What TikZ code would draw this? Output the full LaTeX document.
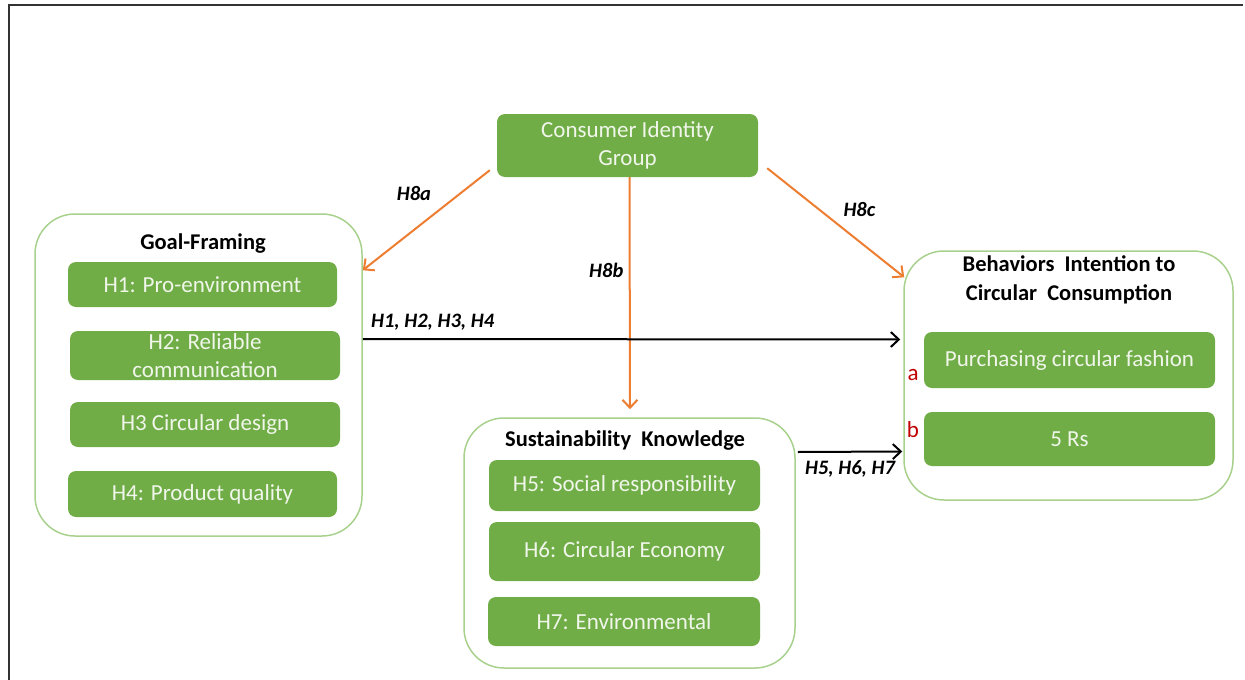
\documentclass[tikz,border=0pt]{standalone}
\usepackage{fontspec}
\setmainfont{Carlito}
\usetikzlibrary{arrows.meta}
\definecolor{boxgreen}{RGB}{112,173,71}
\definecolor{rimgreen}{RGB}{169,209,142}
\definecolor{boxtext}{RGB}{240,246,234}
\definecolor{linkorange}{RGB}{237,125,49}
\definecolor{tagred}{RGB}{192,0,0}
\begin{document}
\begin{tikzpicture}[x=1pt,y=-1pt,
        gbox/.style={draw=none,fill=boxgreen,rounded corners=8pt,text=boxtext,
            align=center,inner sep=0pt,font=\fontsize{23}{28}\selectfont},
        frame/.style={draw=rimgreen,line width=1.5pt,rounded corners=40pt,inner sep=0pt},
        title/.style={font=\fontsize{22.5}{29}\selectfont\bfseries,align=center},
        hyp/.style={font=\fontsize{20.5}{24}\selectfont\bfseries\itshape},
        tag/.style={text=tagred,font=\fontsize{23}{28}\selectfont},
        link/.style={line width=2pt,-{Straight Barb[length=8pt,width=15pt,line width=2pt]}},
        olink/.style={link,draw=linkorange}]
    \useasboundingbox (0,0) rectangle (1245,680);
    %% screenshot edge
    \draw[line width=2pt,black!80] (1243,5) -- (9,5) -- (9,680);
    %% consumer identity
    \node[gbox,minimum width=261pt,minimum height=63pt] (cig) at (627.5,145.5) {Consumer Identity\\Group};
    %% goal-framing
    \node[frame,minimum width=327pt,minimum height=322pt] (goal) at (198.5,375) {};
    \node[title] (goalt) at (203,244) {Goal-Framing};
    \node[gbox,minimum width=269pt,minimum height=45pt] (h1) at (202.5,284.5) {H1: Pro-environment};
    \node[gbox,minimum width=270pt,minimum height=49pt] (h2) at (205,355.5) {H2: Reliable\\communication};
    \node[gbox,minimum width=270pt,minimum height=45pt] (h3) at (205,424.5) {H3 Circular design};
    \node[gbox,minimum width=269pt,minimum height=46pt] (h4) at (202.5,494) {H4: Product quality};
    %% sustainability knowledge
    \node[frame,minimum width=331pt,minimum height=250pt] (sk) at (629.5,543) {};
    \node[title] (skt) at (625,441) {Sustainability\ \ Knowledge};
    \node[gbox,minimum width=271pt,minimum height=51pt] (h5) at (624.5,485.5) {H5: Social responsibility};
    \node[gbox,minimum width=271pt,minimum height=59pt] (h6) at (624.5,551.5) {H6: Circular Economy};
    \node[gbox,minimum width=272pt,minimum height=49pt] (h7) at (624,621.5) {H7: Environmental};
    %% behaviors intention
    \node[frame,minimum width=329pt,minimum height=249pt] (bi) at (1068.5,375.5) {};
    \node[title] (bit) at (1069,279.5) {Behaviors\ \ Intention to\\Circular\ \ Consumption};
    \node[gbox,minimum width=291pt,minimum height=56pt] (pcf) at (1069.5,360) {Purchasing circular fashion};
    \node[gbox,minimum width=291pt,minimum height=54pt] (rs) at (1069.5,439) {5 Rs};
    \node[tag] (ta) at (913,375) {a};
    \node[tag] (tb) at (913,430) {b};
    %% moderation links
    \draw[olink] ([xshift=-7pt,yshift=7pt]cig.south west) -- ([yshift=-57pt]goal.north east)
        node[hyp,pos=0.35,anchor=south east,xshift=-10pt] (h8a) {H8a};
    \draw[olink] ([xshift=2pt]cig.south) -- ([xshift=0.5pt,yshift=8pt]sk.north)
        node[hyp,pos=0.4,anchor=east,xshift=-2pt] (h8b) {H8b};
    \draw[olink] ([xshift=9pt,yshift=9pt]cig.south east) -- ([xshift=1pt,yshift=-27pt]bi.north west)
        node[hyp,pos=0.35,anchor=west,xshift=24pt,yshift=-3pt] (h8c) {H8c};
    %% direct links
    \draw[link] ([yshift=36pt]goal.east) -- ([xshift=-3pt,yshift=36pt]bi.west)
        node[hyp,pos=0.13,anchor=south,yshift=4pt] (h14) {H1, H2, H3, H4};
    \draw[link] ([xshift=2pt,yshift=91pt]sk.east) -- ([xshift=-1pt,yshift=-76pt]bi.west)
        node[hyp,pos=0.5,anchor=north,yshift=-4pt] (h57) {H5, H6, H7};
\end{tikzpicture}
\end{document}
